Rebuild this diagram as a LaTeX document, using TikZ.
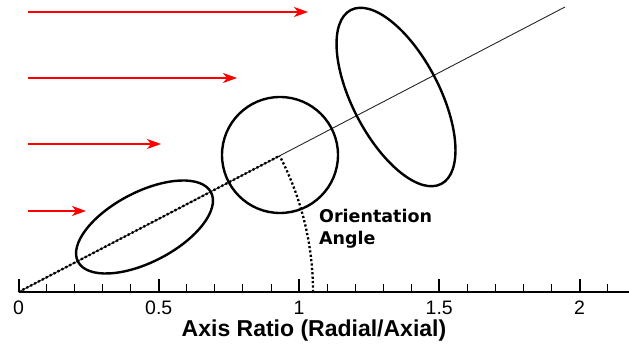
\documentclass[tikz,border=0pt]{standalone}
\usepackage{fontspec}
\setmainfont{Liberation Sans}
\newfontfamily\dejabold{DejaVu Sans}[FakeBold=0]
\usetikzlibrary{arrows.meta}
\tikzset{
  flow/.style={draw=red, line width=1.5pt, -{Stealth[length=14pt,width=10pt,inset=4pt]}},
  shapeline/.style={draw=black, line width=2.4pt},
  dotline/.style={draw=black, line width=2.3pt, dash pattern=on 2.2pt off 2.2pt},
  axisline/.style={draw=black, line width=2pt},
  major/.style={draw=black, line width=2pt},
  minor/.style={draw=black, line width=0.9pt},
  ticklabel/.style={anchor=base, inner sep=0pt, font=\fontsize{19.5}{22}\selectfont},
  titlelabel/.style={anchor=base, inner sep=0pt, font=\fontsize{23}{26}\selectfont\bfseries},
  anglelabel/.style={anchor=base west, inner sep=0pt, font=\fontsize{17.5}{21}\selectfont\dejabold\bfseries}
}
\begin{document}
\begin{tikzpicture}[x=1pt,y=1pt]
\useasboundingbox (0,0) rectangle (629,350);
% key points
\coordinate (O) at (18.5,58);
\coordinate (E) at (565,343);
\coordinate (F) at (313,58);
\coordinate (A) at (279.6,194.2);
\coordinate (axend) at (629,58);
% red arrows
\coordinate (s1) at (28,338); \coordinate (e1) at (308,338);
\coordinate (s2) at (28,272); \coordinate (e2) at (237,272);
\coordinate (s3) at (28,206); \coordinate (e3) at (161,206);
\coordinate (s4) at (28,139); \coordinate (e4) at (86,139);
\draw[flow] (s1) -- (e1);
\draw[flow] (s2) -- (e2);
\draw[flow] (s3) -- (e3);
\draw[flow] (s4) -- (e4);
% inclined line
\draw[black!85, line width=0.9pt] (O) -- (E);
% orientation angle (dotted)
\draw[dotline] (O) -- (A);
\draw[dotline] (F) arc[start angle=0, end angle=27.54, radius=294.5];
\draw[dotline] (O) -- (F);
% ellipses
\draw[shapeline, rotate around={27.5:(144.5,123)}] (144.5,123) ellipse [x radius=75, y radius=35];
\draw[shapeline] (280,195) circle [radius=58];
\draw[shapeline, rotate around={27.5:(396,253)}] (396,253) ellipse [x radius=43.5, y radius=98];
% axis
\draw[axisline] (O) -- (axend);
\foreach \k in {0,...,21} {
  \pgfmathsetmacro{\xx}{18.5+28.05*\k}
  \draw[minor] (\xx,58) -- ++(0,8);
}
\foreach \k/\lab in {0/0,1/0.5,2/1,3/1.5,4/2} {
  \pgfmathsetmacro{\xx}{18.5+140.25*\k}
  \draw[major] (\xx,58) -- ++(0,13);
  \node[ticklabel] (t\k) at (\xx,35) {\lab};
}
\node[titlelabel] (title) at (314,13) {Axis Ratio (Radial/Axial)};
\node[anglelabel] (or) at (319,127) {Orientation};
\node[anglelabel] (an) at (319,105) {Angle};
\end{tikzpicture}
\end{document}
